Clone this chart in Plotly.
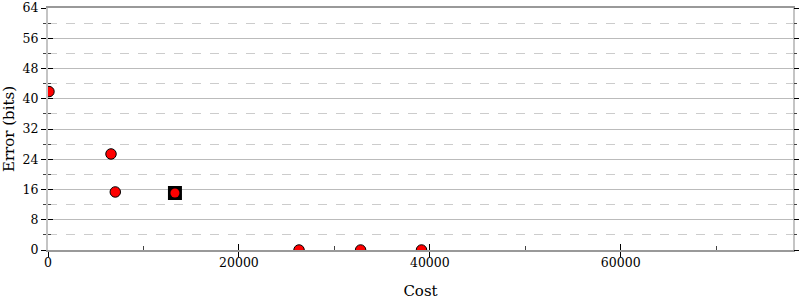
import plotly.graph_objects as go

cost = [100, 6600, 7050, 26300, 32750, 39130]
error = [41.9, 25.4, 15.35, 0, 0, 0]
start_cost = [13300]
start_error = [15.07]

FONT = "DejaVu Serif"
X_RANGE = [0, 78050]
Y_RANGE = [0, 64]

fig = go.Figure()
fig.add_trace(go.Scatter(x=start_cost, y=start_error, mode="markers",
                         marker=dict(symbol="square", size=14, color="black",
                                     line=dict(width=0)),
                         showlegend=False, hoverinfo="skip"))
fig.add_trace(go.Scatter(x=start_cost, y=start_error, mode="markers",
                         marker=dict(symbol="circle", size=9, color="#ff0000",
                                     line=dict(width=0)),
                         showlegend=False))
fig.add_trace(go.Scatter(x=cost, y=error, mode="markers",
                         marker=dict(symbol="circle", size=10.5, color="#ff0000",
                                     line=dict(width=1, color="black")),
                         showlegend=False))
fig.add_trace(go.Scatter(x=[None], y=[None], xaxis="x2", yaxis="y2",
                         showlegend=False, hoverinfo="skip"))
fig.add_trace(go.Scatter(x=[None], y=[None], yaxis="y3",
                         showlegend=False, hoverinfo="skip"))

fig.update_layout(
    width=800, height=300,
    margin=dict(l=48, r=7, t=8, b=50, autoexpand=False),
    paper_bgcolor="white", plot_bgcolor="white",
    font=dict(family=FONT, size=12.5, color="black"),
    xaxis=dict(range=X_RANGE, dtick=20000, tick0=0, automargin=False,
               showgrid=False, zeroline=False,
               showline=True, linecolor="#999999", linewidth=2, mirror=True,
               ticks="outside", ticklen=5, tickcolor="black", tickwidth=1,
               minor=dict(dtick=10000, ticks="", showgrid=False),
               tickformat="d", ticklabelstandoff=-5,
               title=dict(text="Cost", standoff=20)),
    yaxis=dict(range=Y_RANGE, dtick=8, tick0=0, automargin=False,
               showgrid=True, gridcolor="#bbbbbb", gridwidth=1,
               zeroline=False,
               showline=True, linecolor="#c4c4c4", linewidth=2, mirror=True,
               ticks="outside", ticklen=5, tickcolor="black", tickwidth=1,
               minor=dict(dtick=4, showgrid=True, gridcolor="#cccccc",
                          griddash="dash", gridwidth=1,
                          ticks="outside", ticklen=3, tickcolor="#444444"),
               title=dict(text="Error (bits)", standoff=4)),
    xaxis2=dict(range=X_RANGE, overlaying="x", anchor="y2", side="bottom",
                automargin=False,
                showgrid=False, zeroline=False, showticklabels=False,
                ticks="inside", ticklen=6, tickcolor="black", dtick=20000,
                minor=dict(dtick=10000, ticks="inside", ticklen=4, tickcolor="#444444")),
    yaxis2=dict(range=Y_RANGE, overlaying="y", anchor="x2", side="left",
                automargin=False,
                showgrid=False, zeroline=False, showticklabels=False,
                ticks="inside", ticklen=5, tickcolor="black", dtick=8,
                minor=dict(dtick=4, ticks="inside", ticklen=3, tickcolor="#444444")),
    yaxis3=dict(range=Y_RANGE, overlaying="y", anchor="x", side="right",
                automargin=False,
                showgrid=False, zeroline=False, showticklabels=False,
                ticks="outside", ticklen=5, tickcolor="black", dtick=8,
                minor=dict(dtick=4, ticks="outside", ticklen=3, tickcolor="#444444")),
)
fig.write_html("out.html")
